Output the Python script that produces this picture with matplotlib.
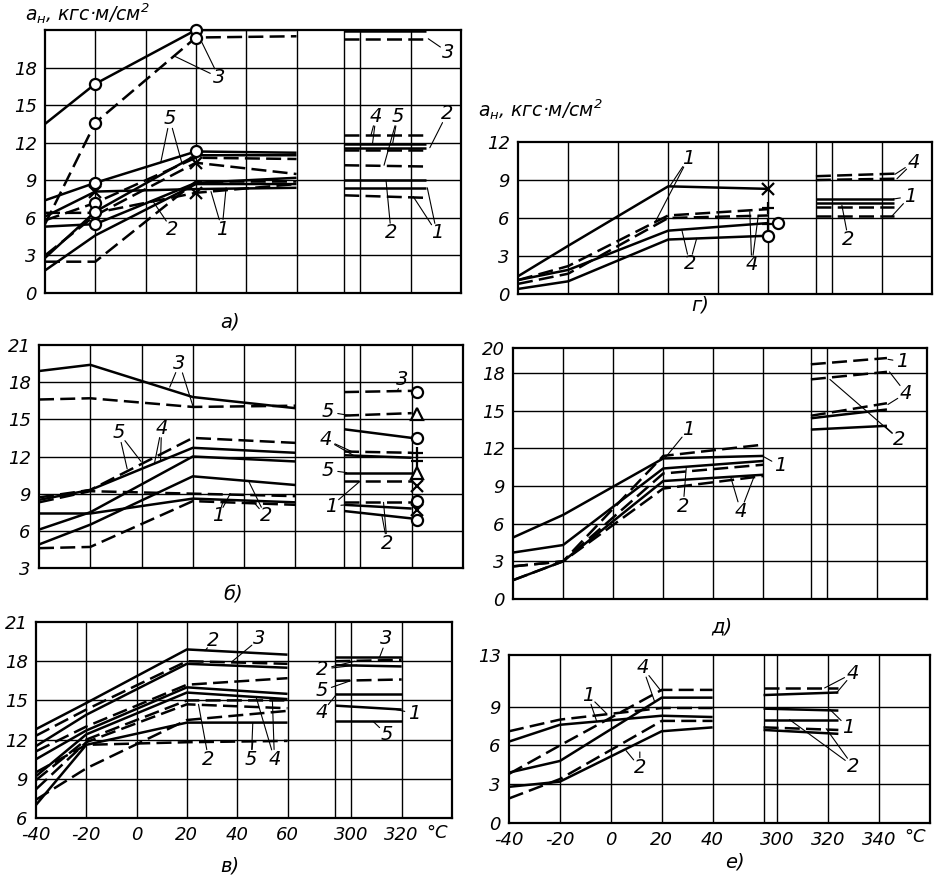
import numpy as np
import matplotlib.pyplot as plt
from matplotlib.transforms import ScaledTranslation

# ---------- а) ----------
a_t = [-40, -20, 20, 60]
a_no = ['3', '3', '5', '5', '4', '4', '2', '2', '1', '1', '1']
a_dash = [0, 1, 0, 1, 0, 1, 0, 1, 0, 1, 0]
a_v = [[13.5, 16.7, 21.0, 21.0],
       [5.5, 13.6, 20.4, 20.5],
       [7.4, 8.8, 11.3, 11.2],
       [5.8, 7.2, 10.8, 10.7],
       [2.8, 6.5, 11.0, 11.0],
       [3.0, 6.2, 10.4, 9.5],
       [5.3, 5.5, 8.8, 9.2],
       [2.5, 2.5, 8.9, 8.9],
       [6.1, 8.1, 8.3, 8.4],
       [6.4, 6.4, 8.0, 8.7],
       [1.8, 4.6, 8.7, 8.7]]
a_rt = [294, 326]
a_rno = ['3', '3', '4', '5', '2', '4', '5', '2', '1', '1']
a_rdash = [0, 1, 1, 0, 0, 1, 1, 0, 0, 1]
a_rv = [[20.9, 20.9], [20.3, 20.3], [12.6, 12.6], [11.9, 11.9], [11.6, 11.6],
        [11.4, 11.4], [10.2, 10.1], [9.0, 9.0], [8.4, 8.4], [7.8, 7.6]]
a_mk_t = [-20, -20, -20, -20, -20, -20, 20, 20, 20, -20, 20, 20]
a_mk_v = [16.7, 13.6, 8.8, 7.2, 6.5, 5.5, 21.0, 20.4, 11.3, 8.1, 10.4, 8.0]
a_mk = ['o'] * 9 + ['x'] * 3

# ---------- б) ----------
b_t = [-40, -20, 20, 60]
b_no = ['3', '3', '5', '4', '5', '2', '1', '1', '2']
b_dash = [0, 1, 1, 0, 0, 0, 1, 0, 1]
b_v = [[18.9, 19.4, 16.8, 15.9],
       [16.6, 16.7, 16.0, 16.1],
       [8.7, 9.3, 13.5, 13.1],
       [8.5, 9.3, 12.7, 12.3],
       [6.1, 7.5, 12.0, 11.6],
       [4.9, 6.5, 10.4, 9.7],
       [8.3, 9.2, 9.0, 8.8],
       [7.4, 7.4, 8.6, 8.3],
       [4.6, 4.7, 8.4, 8.1]]
b_rt = [294, 320]
b_rno = ['3', '5', '3', '4', '4', '5', '1', '2', '1', '2']
b_rdash = [1, 1, 0, 1, 0, 0, 1, 1, 0, 0]
b_rv = [[17.2, 17.3], [15.3, 15.5], [14.2, 13.5], [12.4, 12.3], [12.1, 11.9],
        [10.7, 10.7], [10.0, 10.0], [8.3, 8.3], [8.1, 7.8], [7.6, 7.0]]
b_mk_t = [322] * 10
b_mk_v = [17.2, 15.4, 13.5, 12.3, 11.6, 10.7, 9.6, 8.4, 7.7, 6.9]
b_mk = ['o', '^', 'o', '+', '+', '^', 'x', 'o', 'x', 'o']

# ---------- в) ----------
c_t = [-40, -20, 20, 60]
c_no = ['2', '3', '3', '5', '1', '4', '4', '2', '5', '5', '1']
c_dash = [0, 1, 0, 1, 0, 0, 1, 1, 1, 0, 1]
c_v = [[12.8, 14.8, 18.9, 18.5],
       [12.3, 14.3, 18.0, 17.8],
       [11.5, 13.9, 17.8, 17.5],
       [11.1, 13.0, 16.2, 16.7],
       [10.5, 12.7, 16.0, 15.5],
       [9.2, 12.4, 15.6, 15.1],
       [8.9, 12.0, 15.0, 15.0],
       [8.2, 11.8, 14.7, 14.4],
       [7.4, 9.8, 13.5, 14.2],
       [7.0, 11.6, 13.3, 13.3],
       [9.5, 11.6, 11.8, 11.9]]
c_rt = [294, 320]
c_rno = ['3', '3', '2', '5', '4', '1', '5']
c_rdash = [0, 1, 0, 1, 0, 0, 0]
c_rv = [[18.3, 18.3], [18.0, 18.1], [17.7, 17.6], [16.5, 16.6], [15.5, 15.5],
        [14.6, 14.3], [13.4, 13.4]]

# ---------- г) ----------
d_t = [-40, -20, 20, 60]
d_no = ['1', '4', '4', '2', '2']
d_dash = [0, 1, 1, 0, 0]
d_v = [[1.4, 3.8, 8.5, 8.3],
       [1.1, 2.2, 6.2, 6.7],
       [0.8, 1.6, 6.0, 6.2],
       [1.1, 1.9, 5.0, 5.6],
       [0.4, 1.0, 4.3, 4.6]]
d_rt = [294, 325]
d_rno = ['4', '4', '1', '2', '2', '1']
d_rdash = [1, 1, 0, 0, 1, 1]
d_rv = [[9.3, 9.5], [9.0, 9.1], [7.5, 7.5], [7.2, 7.2], [6.9, 6.9], [6.15, 6.15]]
d_mk_t = [60, 60, 60, 110, 60]
d_mk_v = [8.3, 6.75, 5.5, 5.6, 4.6]
d_mk = ['x', '+', '+', 'o', 'o']

# ---------- д) ----------
e_t = [-40, -20, 20, 60]
e_no = ['1', '1', '2', '2', '4', '4']
e_dash = [0, 1, 0, 1, 0, 1]
e_v = [[4.9, 6.7, 11.2, 11.4],
       [2.6, 3.0, 11.4, 12.3],
       [3.7, 4.3, 10.4, 11.0],
       [2.6, 3.0, 10.0, 10.7],
       [1.5, 3.0, 9.4, 9.9],
       [1.5, 3.0, 8.8, 9.8]]
e_rt = [294, 324]
e_rno = ['1', '4', '4', '2', '2']
e_rdash = [1, 1, 1, 0, 0]
e_rv = [[18.7, 19.2], [17.5, 18.1], [14.6, 15.6], [14.4, 15.1], [13.5, 13.8]]

# ---------- е) ----------
f_t = [-40, -20, 20, 40]
f_no = ['4', '4', '1', '1', '2', '2']
f_dash = [1, 0, 1, 0, 1, 0]
f_v = [[3.8, 6.0, 10.3, 10.3],
       [3.9, 4.8, 9.7, 9.7],
       [7.1, 8.0, 8.9, 8.9],
       [6.3, 7.6, 8.3, 8.2],
       [1.9, 3.4, 7.9, 7.9],
       [2.8, 3.2, 7.1, 7.4]]
f_rt = [294, 324]
f_rno = ['4', '4', '1', '2', '2', '2']
f_rdash = [1, 0, 0, 0, 1, 0]
f_rv = [[10.45, 10.45], [9.9, 10.1], [8.85, 8.7], [8.0, 8.0], [7.4, 7.2], [7.2, 6.9]]

xt_c = [-40, -20, 0, 20, 40, 60, 300, 320]
xt_f = [-40, -20, 0, 20, 40, 300, 320, 340]

plt.rcParams['font.family'] = 'DejaVu Sans'
plt.rcParams['font.style'] = 'italic'
plt.rcParams['font.size'] = 13

W, H = 938, 880
fig = plt.figure(figsize=(W / 100, H / 100), dpi=100)

STD_T, STD_P = [-40, 60, 294, 300, 340], [0, 5, 5.95, 6.27, 8.27]
E_T, E_P = [-40, 40, 294, 300, 360], [0, 4, 5, 5.27, 8.27]
STD_GRID = [1, 2, 3, 4, 5, 5.95, 6.27, 7.27]
E_GRID = [1, 2, 3, 4, 5, 5.27, 6.27, 7.27]
DASH = (0, (6, 2.5))


def draw(box, kT, kP, ylim, yticks, ygrid, vgrid, left, right, marks, labels,
         xt=None, xshift=None):
    ax = fig.add_axes([box[0] / W, 1 - box[3] / H,
                       (box[2] - box[0]) / W, (box[3] - box[1]) / H])
    fwd = lambda t: np.interp(t, kT, kP)
    inv = lambda p: np.interp(p, kP, kT)
    ax.set_xscale('function', functions=(fwd, inv))
    ax.set_xlim(kT[0], kT[-1])
    ax.set_ylim(*ylim)
    for p in vgrid:
        ax.axvline(inv(p), color='k', lw=1.0, zorder=1)
    for y in ygrid:
        ax.axhline(y, color='k', lw=1.0, zorder=1)
    for t, nos, dash, vals in (left, right):
        for n, d, v in zip(nos, dash, vals):
            ax.plot(t, v, color='k', lw=1.8, ls=DASH if d else '-',
                    label=n, zorder=3, solid_capstyle='butt')
    if marks:
        for t, v, k in zip(*marks):
            face = 'white' if k in 'o^' else 'k'
            ax.plot(t, v, k, ms=9 if k != 'o' else 8, mfc=face, mec='k',
                    mew=1.6, zorder=5, clip_on=False)
    for txt, (p, v), targets in labels:
        ax.text(inv(p), v, txt, ha='center', va='center', fontsize=14, zorder=6)
        for tp, tv in targets:
            ax.annotate('', xy=(inv(tp), tv), xytext=(inv(p), v),
                        arrowprops=dict(arrowstyle='-', lw=0.8, color='k',
                                        shrinkA=7, shrinkB=0))
    ax.set_yticks(yticks)
    ax.set_yticklabels([str(y) for y in yticks])
    if xt:
        ax.set_xticks(xt)
        ax.set_xticklabels([str(t) for t in xt])
        ax.text(0.965, -0.03, '°C', transform=ax.transAxes, ha='center', va='top')
        if xshift:
            for lab, dx in zip(ax.get_xticklabels(), xshift):
                lab.set_transform(lab.get_transform() +
                                  ScaledTranslation(dx / 100, 0, fig.dpi_scale_trans))
    else:
        ax.set_xticks([])
    ax.minorticks_off()
    ax.tick_params(length=0, pad=6)
    for s in ax.spines.values():
        s.set_linewidth(1.6)
    return ax


draw((45, 30, 461, 293), STD_T, STD_P, (0, 21), [0, 3, 6, 9, 12, 15, 18],
     [3, 6, 9, 12, 15, 18], STD_GRID,
     (a_t, a_no, a_dash, a_v), (a_rt, a_rno, a_rdash, a_rv),
     (a_mk_t, a_mk_v, a_mk),
     [('3', (3.46, 17.2), [(2.58, 18.9), (3.12, 20.0)]),
      ('3', (8.02, 19.2), [(7.62, 20.3)]),
      ('5', (2.48, 13.9), [(2.3, 10.4), (2.72, 10.4)]),
      ('2', (2.52, 5.1), [(2.15, 7.3)]),
      ('1', (3.52, 5.1), [(3.3, 8.1), (3.6, 8.4)]),
      ('4', (6.58, 14.1), [(6.48, 12.6), (6.51, 11.9)]),
      ('5', (7.01, 14.1), [(6.91, 11.9), (6.74, 10.2)]),
      ('2', (7.99, 14.3), [(7.65, 11.6)]),
      ('2', (6.88, 4.8), [(6.78, 9.0)]),
      ('1', (7.79, 4.8), [(7.32, 7.7), (7.6, 8.4)])])

draw((39, 345, 463, 568), STD_T, STD_P, (3, 21), [3, 6, 9, 12, 15, 18, 21],
     [6, 9, 12, 15, 18], STD_GRID,
     (b_t, b_no, b_dash, b_v), (b_rt, b_rno, b_rdash, b_rv),
     (b_mk_t, b_mk_v, b_mk),
     [('3', (2.74, 19.5), [(2.55, 17.6), (3.0, 16.1)]),
      ('5', (1.56, 13.9), [(1.72, 11.0), (1.99, 11.6)]),
      ('4', (2.39, 14.3), [(2.25, 11.4), (2.37, 11.6)]),
      ('1', (3.5, 7.2), [(3.73, 9.0), (3.6, 8.5)]),
      ('2', (4.42, 7.2), [(4.09, 10.0), (4.19, 8.3)]),
      ('3', (7.09, 18.2), [(6.99, 17.3)]),
      ('5', (5.64, 15.6), [(6.07, 15.3)]),
      ('4', (5.6, 13.35), [(6.1, 12.4), (6.13, 12.1)]),
      ('5', (5.64, 10.9), [(6.0, 10.7)]),
      ('1', (5.7, 8.0), [(6.26, 10.0), (6.0, 8.1)]),
      ('2', (6.79, 5.0), [(6.72, 8.3), (6.69, 7.2)])])

draw((36, 622, 452, 818), STD_T, STD_P, (6, 21), [6, 9, 12, 15, 18, 21],
     [9, 12, 15, 18], STD_GRID,
     (c_t, c_no, c_dash, c_v), (c_rt, c_rno, c_rdash, c_rv), None,
     [('2', (3.53, 19.6), [(3.36, 18.8)]),
      ('3', (4.44, 19.7), [(3.89, 17.95)]),
      ('2', (3.43, 10.5), [(3.23, 14.7)]),
      ('5', (4.28, 10.5), [(4.31, 13.3), (4.31, 11.85)]),
      ('4', (4.74, 10.5), [(4.38, 15.2), (4.7, 14.95)]),
      ('3', (6.97, 19.7), [(6.83, 18.3)]),
      ('2', (5.69, 17.4), [(6.38, 17.7), (6.34, 18.0)]),
      ('5', (5.69, 15.75), [(6.25, 16.5)]),
      ('4', (5.69, 14.1), [(5.98, 15.5)]),
      ('1', (7.52, 14.0), [(7.1, 14.35)]),
      ('5', (6.97, 12.4), [(6.7, 13.4)])],
     xt=xt_c)

draw((518, 142, 932, 294), STD_T, STD_P, (0, 12), [0, 3, 6, 9, 12],
     [3, 6, 9], STD_GRID,
     (d_t, d_no, d_dash, d_v), (d_rt, d_rno, d_rdash, d_rv),
     (d_mk_t, d_mk_v, d_mk),
     [('1', (3.4, 10.7), [(3.03, 8.5), (2.73, 5.6)]),
      ('2', (3.43, 2.4), [(3.27, 5.1), (3.57, 4.4)]),
      ('4', (4.67, 2.3), [(4.63, 6.5), (4.8, 6.2)]),
      ('4', (7.9, 10.4), [(7.53, 9.45), (7.57, 9.1)]),
      ('1', (7.83, 7.7), [(7.5, 7.5), (7.47, 6.15)]),
      ('2', (6.6, 4.3), [(6.47, 7.0)])])

draw((513, 348, 927, 599), STD_T, STD_P, (0, 20), [0, 3, 6, 9, 12, 15, 18, 20],
     [3, 6, 9, 12, 15, 18], STD_GRID,
     (e_t, e_no, e_dash, e_v), (e_rt, e_rno, e_rdash, e_rv), None,
     [('1', (3.5, 13.5), [(3.03, 11.2)]),
      ('1', (5.34, 10.6), [(4.98, 11.4)]),
      ('2', (3.4, 7.4), [(3.46, 10.4)]),
      ('4', (4.55, 7.0), [(4.35, 9.7), (4.82, 9.8)]),
      ('1', (7.78, 18.9), [(7.49, 19.1)]),
      ('4', (7.85, 16.4), [(7.52, 18.1), (7.49, 15.5)]),
      ('2', (7.72, 12.7), [(7.42, 13.8), (6.33, 17.5)])])

draw((509, 655, 930, 823), E_T, E_P, (0, 13), [0, 3, 6, 9, 13],
     [3, 6, 9], E_GRID,
     (f_t, f_no, f_dash, f_v), (f_rt, f_rno, f_rdash, f_rv), None,
     [('1', (1.55, 9.9), [(1.91, 8.5), (1.72, 7.9)]),
      ('4', (2.63, 12.0), [(2.99, 10.2), (2.86, 9.4)]),
      ('2', (2.57, 4.3), [(2.3, 5.6), (2.57, 5.5)]),
      ('4', (6.76, 11.6), [(6.2, 10.45), (6.43, 10.05)]),
      ('1', (6.66, 7.4), [(6.3, 8.8)]),
      ('2', (6.76, 4.4), [(5.51, 8.0), (6.23, 7.3)])],
     xt=xt_f, xshift=[0, 0, 0, 0, 0, 32, 20, 5])

for x, y, s in [(230, 322, 'а)'), (233, 595, 'б)'), (230, 866, 'в)'),
                (700, 305, 'г)'), (722, 627, 'д)'), (735, 862, 'е)')]:
    fig.text(x / W, 1 - y / H, s, ha='center', va='center', fontsize=14)

ylab = r'$a_{н}$, кгс·м/см$^2$'
fig.text(25 / W, 1 - 14 / H, ylab, ha='left', va='center', fontsize=13.5)
fig.text(478 / W, 1 - 110 / H, ylab, ha='left', va='center', fontsize=13.5)

fig.savefig('out.png', dpi=100)
